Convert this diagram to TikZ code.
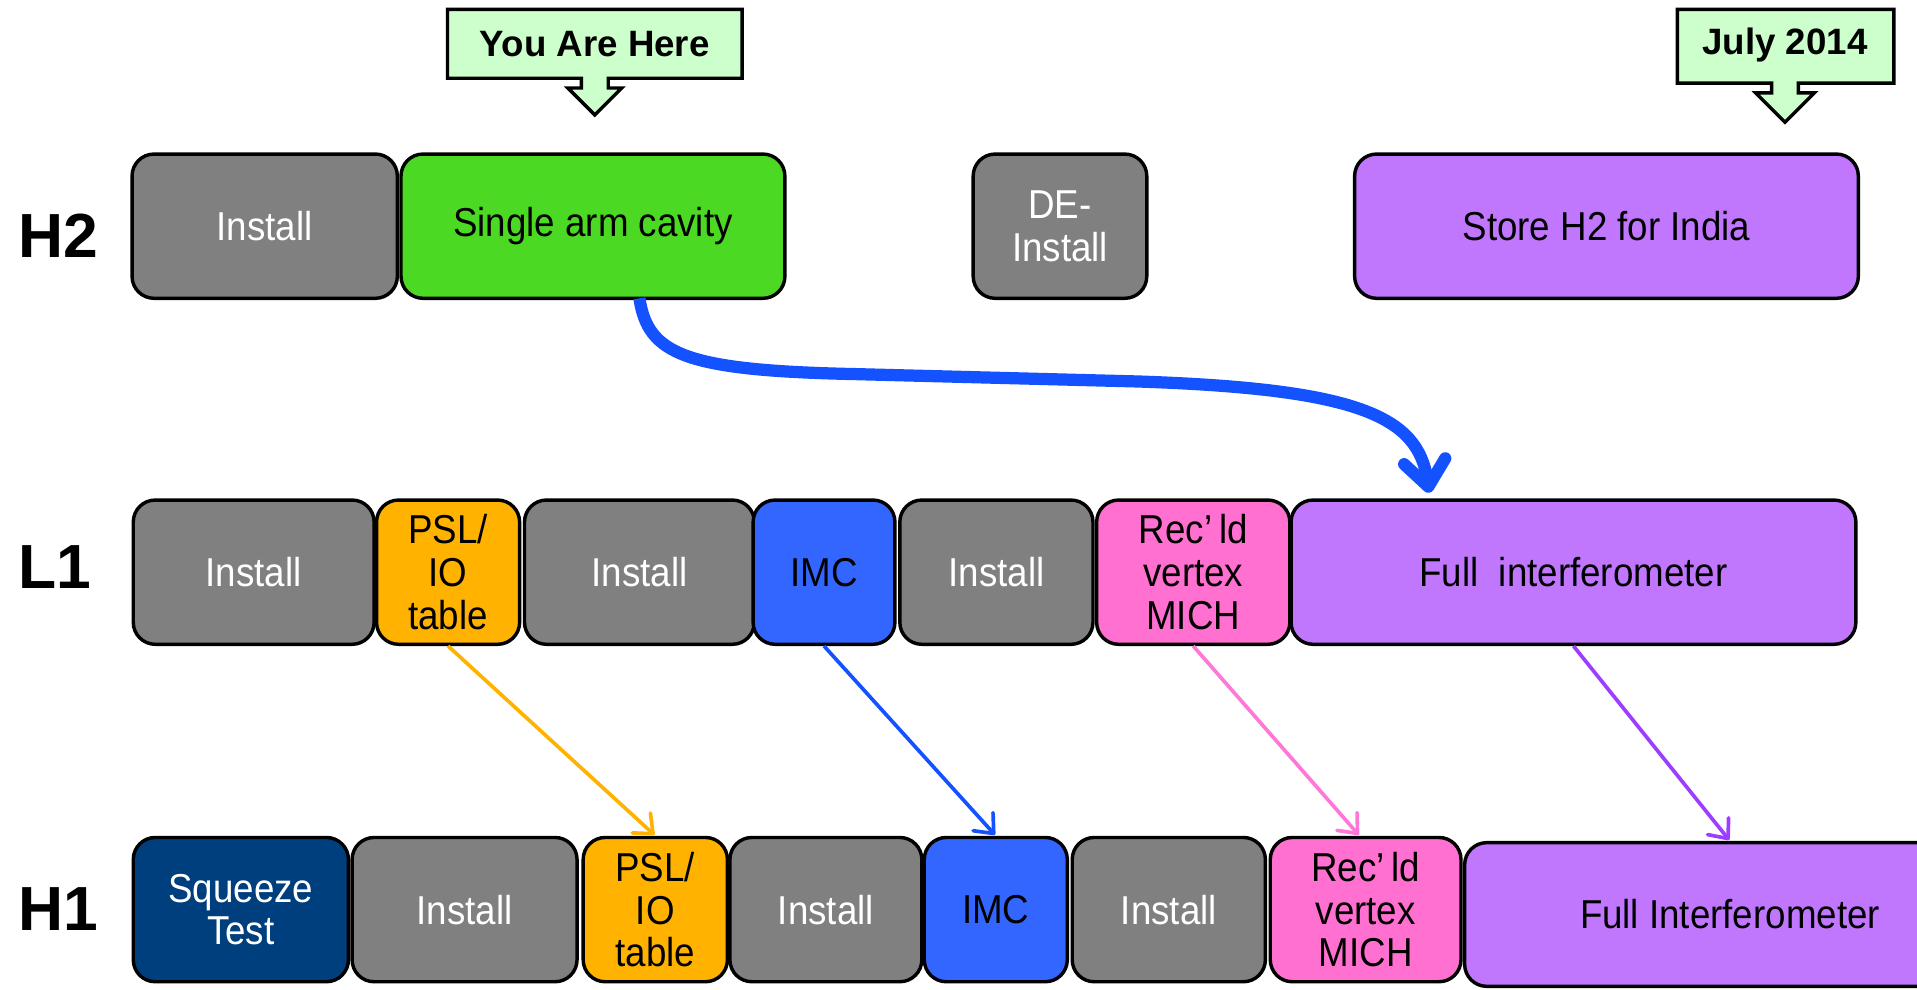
\documentclass[tikz,border=0pt]{standalone}
\usepackage{fontspec}
\setmainfont{Liberation Sans}
\newfontfamily\boxfont{Liberation Sans}[FakeStretch=0.91]
\usetikzlibrary{arrows.meta,calc}
\definecolor{cgray}{HTML}{808080}
\definecolor{cgreen}{HTML}{4BD923}
\definecolor{cpurple}{HTML}{C077FE}
\definecolor{corange}{HTML}{FFB200}
\definecolor{cimc}{HTML}{3366FF}
\definecolor{cpink}{HTML}{FF70D0}
\definecolor{cnavy}{HTML}{003F7E}
\definecolor{ccall}{HTML}{CCFFCC}
\definecolor{carrowblue}{HTML}{1452FF}
\definecolor{carrowpink}{HTML}{FF77D8}
\definecolor{carrowpurple}{HTML}{9D3DFF}
\begin{document}
\begin{tikzpicture}[x=1pt,y=-1pt,
  box/.style={draw=black, line width=2.8pt, rounded corners=18pt, inner sep=0pt,
    align=center, font=\boxfont\fontsize{33}{35}\selectfont, minimum height=118pt},
  graybox/.style={box, fill=cgray, text=white},
  rowlabel/.style={font=\fontsize{51}{51}\selectfont\bfseries, anchor=base west, inner sep=0pt},
  calloutshape/.style={draw=black, line width=2.8pt, fill=ccall, line join=miter},
  callouttext/.style={font=\fontsize{30}{34}\selectfont\bfseries, inner sep=0pt},
  linkarrow/.style={line width=3pt, -{Straight Barb[round,length=13pt,width=22pt]}, shorten >=1pt},
  bigarrow/.style={line width=10pt, carrowblue, -{Straight Barb[round,length=21pt,width=34pt]}}
  ]
\useasboundingbox (0,0) rectangle (1568,809);
\clip (0,0) rectangle (1568,809);

% callouts
\draw[calloutshape] (366,7.6) -- (607,7.6) -- (607,64) -- (497.5,64) -- (497.5,72) -- (508.5,72)
  -- (486.5,94) -- (464.5,72) -- (475.5,72) -- (475.5,64) -- (366,64) -- cycle;
\node[callouttext] (yah) at (486.5,36) {You Are Here};
\draw[calloutshape] (1372,7.6) -- (1549,7.6) -- (1549,68) -- (1471,68) -- (1471,76) -- (1484,76)
  -- (1460,100) -- (1436,76) -- (1449,76) -- (1449,68) -- (1372,68) -- cycle;
\node[callouttext] (july) at (1460,37) {July 2014};

% row labels
\node[rowlabel] (lH2) at (15,211) {H2};
\node[rowlabel] (lL1) at (15,481) {L1};
\node[rowlabel] (lH1) at (15,761) {H1};

% H2 row
\node[graybox, minimum width=217pt] (h2a) at (216.5,185) {Install};
\node[box, fill=cgreen, minimum width=314pt] (h2b) at (485,185) {Single arm cavity};
\node[graybox, minimum width=142pt] (h2c) at (867,185) {DE-\\Install};
\node[box, fill=cpurple, minimum width=412pt] (h2d) at (1314,185) {Store H2 for India};

% L1 row
\node[graybox, minimum width=197pt] (l1a) at (207.5,468) {Install};
\node[box, fill=corange, minimum width=117pt] (l1b) at (366.5,468) {PSL/\\IO\\table};
\node[graybox, minimum width=188pt] (l1c) at (523,468) {Install};
\node[box, fill=cimc, minimum width=116pt] (l1d) at (674,468) {IMC};
\node[graybox, minimum width=158pt] (l1e) at (815,468) {Install};
\node[box, fill=cpink, minimum width=158pt] (l1f) at (976,468) {Rec’\,ld\\vertex\\MICH};
\node[box, fill=cpurple, minimum width=462pt] (l1g) at (1287,468) {Full\ \ interferometer};

% H1 row
\node[box, fill=cnavy, text=white, minimum width=176pt] (h1a) at (197,744) {Squeeze\\Test};
\node[graybox, minimum width=184pt] (h1b) at (380,744) {Install};
\node[box, fill=corange, minimum width=118pt] (h1c) at (536,744) {PSL/\\IO\\table};
\node[graybox, minimum width=157pt] (h1d) at (675.5,744) {Install};
\node[box, fill=cimc, minimum width=117pt] (h1e) at (814.5,744) {IMC};
\node[graybox, minimum width=158pt] (h1f) at (956,744) {Install};
\node[box, fill=cpink, minimum width=156pt] (h1g) at (1117,744) {Rec’\,ld\\vertex\\MICH};
\node[box, fill=cpurple, minimum width=434pt, minimum height=117.5pt] (h1h) at (1415,748) {Full Interferometer};

% big curved arrow
\coordinate (cstart) at (523,244);
\coordinate (cend) at (1169,403);
\draw[bigarrow] (cstart) .. controls (530,290) and (560,303) .. (700,306) -- (930,312)
  .. controls (1110,318) and (1160,340) .. (cend);

% diagonal arrows
\draw[linkarrow, corange] (l1b.south) -- (h1c.north);
\draw[linkarrow, carrowblue] (l1d.south) -- (h1e.north);
\draw[linkarrow, carrowpink] (l1f.south) -- ($(h1g.north)+(-5,0)$);
\draw[linkarrow, carrowpurple] (l1g.south) -- (h1h.north);
\end{tikzpicture}
\end{document}
